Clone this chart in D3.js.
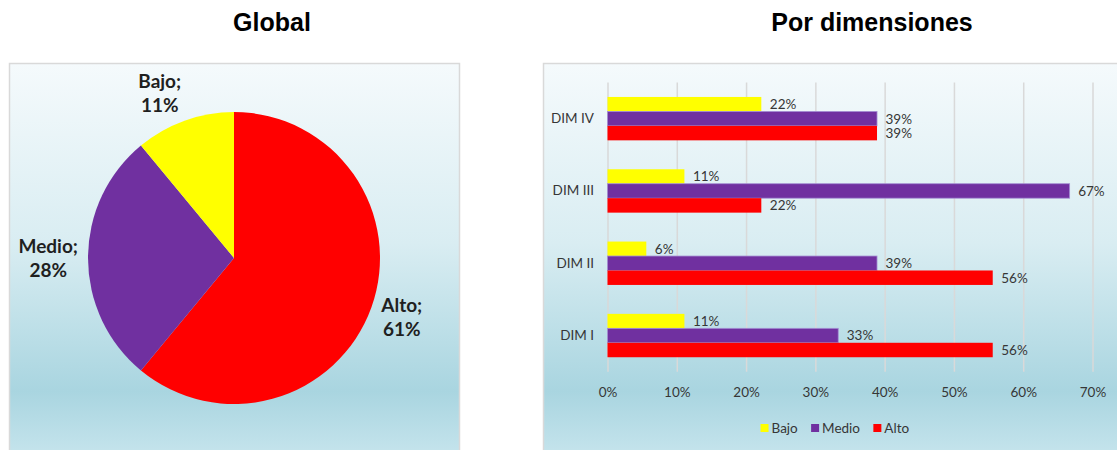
<!DOCTYPE html>
<html>
<head>
<meta charset="utf-8">
<script src="https://cdn.jsdelivr.net/npm/d3@7"></script>
<style>
    body { margin: 0; background: #fff; }
    svg { display: block; }
    .title { font-family: "Liberation Sans", Arial, sans-serif; font-weight: bold; font-size: 25px; fill: #000; }
    .pie-label { font-family: Lato, "Open Sans", sans-serif; font-weight: bold; font-size: 19px; fill: #1f1f1f; }
    .axis text, .val, .legend text { font-family: Lato, "Open Sans", sans-serif; font-size: 13.5px; fill: #363636; }
    .axis-x .tick line { stroke: #d9d9d9; stroke-width: 1.5; }
</style>
</head>
<body>
<div id="wrapper"></div>
<script>
// Global
const pieLabels = ['Alto', 'Medio', 'Bajo'];
const pieValues = [61, 28, 11];
const pieColors = ['#ff0000', '#7030a0', '#ffff00'];

// Por dimensiones
const dims = ['DIM IV', 'DIM III', 'DIM II', 'DIM I'];
const levels = ['Bajo', 'Medio', 'Alto'];
const bajo = [22.2, 11.1, 5.6, 11.1];
const medio = [38.9, 66.7, 38.9, 33.3];
const alto = [38.9, 22.2, 55.6, 55.6];
const levelColors = ['#ffff00', '#7030a0', '#ff0000'];
const xTicks = [0, 10, 20, 30, 40, 50, 60, 70];

const width = 1117, height = 450;

const svg = d3.select('#wrapper')
    .append('svg')
    .attr('width', width)
    .attr('height', height);

const grad = svg.append('defs')
    .append('linearGradient')
    .attr('id', 'panelBg')
    .attr('x1', 0).attr('y1', 0)
    .attr('x2', 0).attr('y2', 1);
[['0%', '#f5fafc'], ['45%', '#d9edf2'], ['82%', '#a9d5e0'], ['100%', '#c9e6ee']]
    .forEach(([o, c]) => grad.append('stop').attr('offset', o).attr('stop-color', c));

// panels
const panels = [{x: 9.5, w: 450}, {x: 543.5, w: 586}];
svg.selectAll('rect.panel')
    .data(panels)
    .enter()
    .append('rect')
    .attr('class', 'panel')
    .attr('x', d => d.x)
    .attr('y', 63.5)
    .attr('width', d => d.w)
    .attr('height', 400)
    .attr('fill', 'url(#panelBg)')
    .attr('stroke', '#d9d9d9')
    .attr('stroke-width', 1.5);

svg.append('text').attr('class', 'title')
    .attr('x', 272).attr('y', 31)
    .attr('text-anchor', 'middle')
    .text('Global');
svg.append('text').attr('class', 'title')
    .attr('x', 872).attr('y', 31)
    .attr('text-anchor', 'middle')
    .text('Por dimensiones');

// ---------- pie ----------
const cx = 234, cy = 258, r = 146;
const pieData = pieLabels.map((l, i) => ({label: l, value: pieValues[i], color: pieColors[i]}));
const arcs = d3.pie().sort(null).value(d => d.value)(pieData);
const arc = d3.arc().innerRadius(0).outerRadius(r);

const pieG = svg.append('g')
    .attr('transform', `translate(${cx}, ${cy})`);

pieG.selectAll('path')
    .data(arcs)
    .enter()
    .append('path')
    .attr('d', arc)
    .attr('fill', d => d.data.color);

// labels outside, pushed away from the circle
arcs.forEach(d => {
    const a = (d.startAngle + d.endAngle) / 2;
    const s = Math.sin(a), c = Math.cos(a);
    const px = (r + 10) * s, py = -(r + 10) * c;
    const t = pieG.append('text')
        .attr('class', 'pie-label')
        .attr('text-anchor', 'middle');
    t.append('tspan').attr('x', 0).attr('dy', 0).text(d.data.label + ';');
    t.append('tspan').attr('x', 0).attr('dy', 24.5).text(d.data.value + '%');
    const w = t.node().getBBox().width;
    const h = 38;
    const lx = px + (Math.abs(s) > 0.1 ? Math.sign(s) * w / 2 : 0);
    const ly = py - c * h / 2;
    t.attr('transform', `translate(${lx}, ${ly - 5.5})`);
});

// ---------- bars ----------
const plot = {left: 607.5, top: 82.5, width: 485, height: 289.2};

const x = d3.scaleLinear()
    .domain([0, 70])
    .range([0, plot.width]);
const y0 = d3.scaleBand()
    .domain(dims)
    .range([0, plot.height])
    .paddingInner(0.4)
    .paddingOuter(0.2);
const y1 = d3.scaleBand()
    .domain(levels)
    .range([0, y0.bandwidth()]);

const barG = svg.append('g')
    .attr('transform', `translate(${plot.left}, ${plot.top})`);

barG.append('g')
    .attr('class', 'axis axis-x')
    .attr('transform', `translate(0, ${plot.height})`)
    .call(d3.axisBottom(x)
        .tickValues(xTicks)
        .tickFormat(d => d + '%')
        .tickSizeInner(-plot.height)
        .tickSizeOuter(0)
        .tickPadding(16))
    .call(g => g.select('.domain').remove());

barG.append('g')
    .attr('class', 'axis axis-y')
    .call(d3.axisLeft(y0)
        .tickSize(0)
        .tickPadding(13.5))
    .call(g => g.select('.domain').remove());

const rows = dims.map((dim, i) => ({dim, values: [bajo[i], medio[i], alto[i]]}));

const groups = barG.selectAll('g.group')
    .data(rows)
    .enter()
    .append('g')
    .attr('class', 'group')
    .attr('transform', d => `translate(0, ${y0(d.dim)})`);

groups.selectAll('rect')
    .data(d => d.values.map((v, j) => ({level: levels[j], value: v, color: levelColors[j]})))
    .enter()
    .append('rect')
    .attr('x', 0)
    .attr('y', d => y1(d.level))
    .attr('width', d => x(d.value))
    .attr('height', y1.bandwidth())
    .attr('fill', d => d.color)
    .attr('stroke', d => d.level === 'Medio' ? '#a48fd4' : 'none')
    .attr('stroke-width', 0.8);

groups.selectAll('text.val')
    .data(d => d.values.map((v, j) => ({level: levels[j], value: v})))
    .enter()
    .append('text')
    .attr('class', 'val')
    .attr('x', d => x(d.value) + 8.5)
    .attr('y', d => y1(d.level) + y1.bandwidth() / 2)
    .attr('dy', '0.36em')
    .text(d => Math.round(d.value) + '%');

// ---------- legend ----------
const legend = svg.append('g').attr('class', 'legend');
const items = legend.selectAll('g')
    .data(levels)
    .enter()
    .append('g');
items.append('rect')
    .attr('width', 8)
    .attr('height', 8)
    .attr('y', -4)
    .attr('fill', (d, i) => levelColors[i]);
items.append('text')
    .attr('x', 11)
    .attr('dy', '0.36em')
    .text(d => d);

let off = 0;
items.each(function() {
    const w = this.getBBox().width;
    d3.select(this).attr('transform', `translate(${off}, 0)`);
    off += w + 13;
});
legend.attr('transform', `translate(${835 - (off - 13) / 2}, 428)`);
</script>
</body>
</html>
